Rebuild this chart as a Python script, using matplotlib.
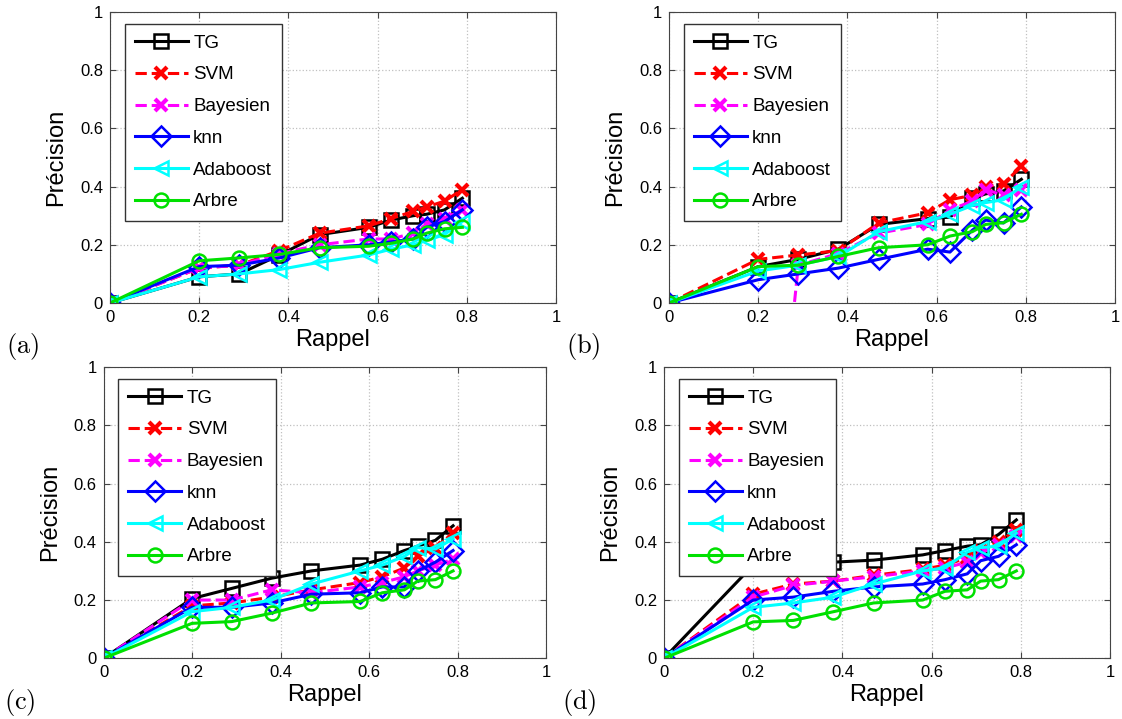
import matplotlib
matplotlib.use("Agg")
import matplotlib.pyplot as plt

plt.rcParams['font.family'] = ['Liberation Sans', 'DejaVu Sans']
plt.rcParams['mathtext.fontset'] = 'cm'

# Rappel (commun a toutes les courbes)
rappel = [0, 0.2, 0.29, 0.38, 0.47, 0.58, 0.63, 0.68, 0.71, 0.75, 0.79]

noms = ["TG", "SVM", "Bayesien", "knn", "Adaboost", "Arbre"]

# (a)
tg_a = [0, 0.09, 0.10, 0.165, 0.235, 0.26, 0.285, 0.30, 0.305, 0.32, 0.36]
svm_a = [0, 0.12, 0.13, 0.18, 0.24, 0.265, 0.29, 0.315, 0.33, 0.35, 0.39]
bay_a = [0, 0.12, 0.13, 0.17, 0.20, 0.22, 0.22, 0.24, 0.27, 0.29, 0.32]
knn_a = [0, 0.125, 0.13, 0.155, 0.19, 0.20, 0.21, 0.22, 0.26, 0.28, 0.32]
ada_a = [0, 0.09, 0.10, 0.115, 0.14, 0.165, 0.185, 0.20, 0.215, 0.235, 0.28]
arb_a = [0, 0.145, 0.155, 0.167, 0.19, 0.195, 0.205, 0.22, 0.24, 0.255, 0.26]

# (b)
tg_b = [0, 0.125, 0.15, 0.185, 0.27, 0.29, 0.295, 0.36, 0.375, 0.385, 0.425]
svm_b = [0, 0.15, 0.165, 0.18, 0.275, 0.31, 0.355, 0.37, 0.40, 0.41, 0.47]
bay_b = [0, -1.2, 0.13, 0.17, 0.24, 0.27, 0.32, 0.35, 0.39, 0.37, 0.39]
knn_b = [0, 0.08, 0.10, 0.12, 0.15, 0.185, 0.175, 0.25, 0.285, 0.275, 0.33]
ada_b = [0, 0.11, 0.13, 0.16, 0.245, 0.28, 0.305, 0.335, 0.345, 0.355, 0.40]
arb_b = [0, 0.125, 0.13, 0.16, 0.19, 0.20, 0.23, 0.245, 0.27, 0.276, 0.305]

# (c)
tg_c = [0, 0.205, 0.24, 0.275, 0.30, 0.32, 0.34, 0.37, 0.385, 0.405, 0.455]
svm_c = [0, 0.18, 0.19, 0.21, 0.235, 0.26, 0.28, 0.31, 0.35, 0.38, 0.43]
bay_c = [0, 0.20, 0.20, 0.235, 0.225, 0.245, 0.26, 0.28, 0.30, 0.32, 0.34]
knn_c = [0, 0.175, 0.175, 0.19, 0.22, 0.225, 0.245, 0.245, 0.30, 0.33, 0.37]
ada_c = [0, 0.16, 0.175, 0.20, 0.255, 0.30, 0.32, 0.35, 0.38, 0.375, 0.41]
arb_c = [0, 0.12, 0.126, 0.155, 0.19, 0.195, 0.225, 0.235, 0.265, 0.27, 0.30]

# (d)
tg_d = [0, 0.32, 0.325, 0.33, 0.337, 0.355, 0.37, 0.385, 0.39, 0.425, 0.475]
svm_d = [0, 0.22, 0.255, 0.265, 0.285, 0.305, 0.32, 0.345, 0.37, 0.40, 0.44]
bay_d = [0, 0.21, 0.25, 0.265, 0.28, 0.30, 0.31, 0.33, 0.36, 0.39, 0.42]
knn_d = [0, 0.20, 0.21, 0.23, 0.245, 0.255, 0.27, 0.29, 0.335, 0.35, 0.39]
ada_d = [0, 0.175, 0.19, 0.21, 0.255, 0.30, 0.31, 0.365, 0.38, 0.385, 0.43]
arb_d = [0, 0.125, 0.13, 0.16, 0.19, 0.20, 0.23, 0.235, 0.265, 0.27, 0.30]

panneaux = {
    "(a)": [tg_a, svm_a, bay_a, knn_a, ada_a, arb_a],
    "(b)": [tg_b, svm_b, bay_b, knn_b, ada_b, arb_b],
    "(c)": [tg_c, svm_c, bay_c, knn_c, ada_c, arb_c],
    "(d)": [tg_d, svm_d, bay_d, knn_d, ada_d, arb_d],
}

# style des courbes : couleur, trait, marqueur
styles = [
    ("black", "-", "s"),
    ("red", "--", "x"),
    ("magenta", "--", "x"),
    ("blue", "-", "D"),
    ("cyan", "-", "<"),
    ("#00e000", "-", "o"),
]

# positions des axes en pixels : gauche, droite, haut, bas
positions = {
    "(a)": (110, 556, 12, 303),
    "(b)": (669, 1115, 12, 303),
    "(c)": (103.5, 546, 367, 658.3),
    "(d)": (664, 1110, 367, 658.3),
}
lettres = {"(a)": (6, 347), "(b)": (566, 347), "(c)": (4, 702), "(d)": (562, 702)}

W, H = 1122, 719
fig = plt.figure(figsize=(W / 100, H / 100), dpi=100)

for nom, series in panneaux.items():
    g, d, h, b = positions[nom]
    ax = fig.add_axes([g / W, 1 - b / H, (d - g) / W, (b - h) / H])
    for label, y, (c, ls, m) in zip(noms, series, styles):
        ms = 10 if m != "x" else 8
        mew = 1.8 if m != "x" else 3
        ax.plot(rappel, y, color=c, linestyle=ls, marker=m, markersize=ms,
                markerfacecolor="none", markeredgewidth=mew, linewidth=2.2,
                label=label)
    ax.set_xlim(0, 1)
    ax.set_ylim(0, 1)
    ticks = [0, 0.2, 0.4, 0.6, 0.8, 1]
    ax.set_xticks(ticks)
    ax.set_yticks(ticks)
    ax.set_xticklabels(["0", "0.2", "0.4", "0.6", "0.8", "1"])
    ax.set_yticklabels(["0", "0.2", "0.4", "0.6", "0.8", "1"])
    ax.tick_params(direction="in", top=True, right=True, labelsize=12,
                   length=4, color="#444444", pad=5)
    for s in ax.spines.values():
        s.set_color("#444444")
        s.set_linewidth(0.8)
    ax.grid(True, linestyle=":", color="#c0c0c0", linewidth=0.9)
    ax.set_xlabel("Rappel", fontsize=17, labelpad=3)
    ax.set_ylabel("Précision", fontsize=17, labelpad=9)
    leg = ax.legend(loc="upper left", bbox_to_anchor=(0.012, 0.99),
                    fontsize=13.5, handlelength=2.8, handletextpad=0.3,
                    labelspacing=0.78, borderpad=0.55, fancybox=False,
                    framealpha=1, edgecolor="#333333")
    leg.get_frame().set_linewidth(1.0)
    leg.set_zorder(5)
    lx, ly = lettres[nom]
    fig.text(lx / W, 1 - ly / H, r"$\mathrm{" + nom + "}$", fontsize=19,
             va="center", ha="left")

fig.savefig("out.png", dpi=100)
